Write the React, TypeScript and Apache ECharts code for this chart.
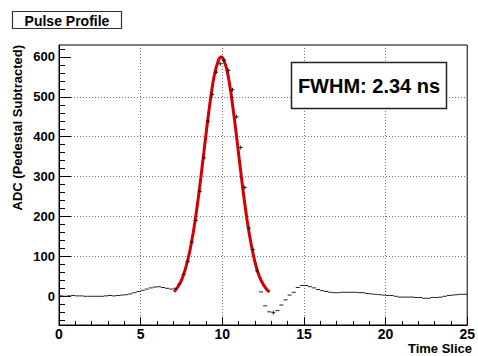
import React, { useEffect, useRef } from 'react';
import * as echarts from 'echarts';

// ---- data ----
const binStart = 0;
const binWidth = 0.25;
// ADC per bin (100 bins of 0.25 time slice)
const adcValues = [
  1, 0, 1, 2, 1, 1, 0, 0, 0, 0,
  0, 1, 2, 1, 2, 3, 4, 6, 9, 12,
  15, 18, 21, 23, 24, 22, 20, 18, 20, 31,
  55, 87, 136, 190, 263, 347, 439, 506, 562, 583,
  592, 566, 518, 450, 373, 273, 171, 117, 64, 11,
  -24, -39, -41, -36, -22, -9, 3, 10, 22, 27,
  27, 24, 21, 17, 14, 12, 10, 9, 9, 10,
  10, 10, 10, 9, 9, 7, 6, 5, 4, 3,
  2, 2, 0, -2, -2, -2, -2, -3, -3, -5,
  -5, -3, -3, -2, 0, 2, 3, 4, 5, 5,
];
// half-height of the vertical error bar (only visible on the pulse)
const binError = 5;
const errorThreshold = 40;

const fitX = [7.05, 7.25, 7.5, 7.75, 8.0, 8.25, 8.5, 8.75, 9.0, 9.25, 9.5, 9.75, 9.93, 10.0, 10.25, 10.5, 10.75, 11.0, 11.25, 11.5, 11.75, 12.0, 12.25, 12.5, 12.75, 12.9];
const fitY = [11, 22, 40, 70, 111, 167, 237, 319, 405, 486, 552, 590, 600, 599, 573, 518, 442, 357, 272, 196, 134, 86, 52, 30, 16, 11];

const xRange = [0, 25];
const xInterval = 5;
const yRange = [-72, 630];
const yMajorTicks = [0, 100, 200, 300, 400, 500, 600];
const yMinorTicks = [-60, -40, -20, 20, 40, 60, 80, 120, 140, 160, 180, 220, 240, 260, 280, 320, 340, 360, 380, 420, 440, 460, 480, 520, 540, 560, 580, 620];

const titleText = 'Pulse Profile';
const fwhmText = 'FWHM: 2.34 ns';
const xAxisName = 'Time Slice';
const yAxisName = 'ADC (Pedestal Subtracted)';

const FONT = '"Liberation Sans", Arial, Helvetica, sans-serif';

export default function App() {
  const ref = useRef<HTMLDivElement>(null);

  useEffect(() => {
    if (!ref.current) return;
    const chart = echarts.init(ref.current, null, { renderer: 'svg' });

    const binData = adcValues.map((v, i) => [binStart + binWidth * (i + 0.5), v]);
    const fitData = fitX.map((x, i) => [x, fitY[i]]);

    const option: any = {
      animation: false,
      backgroundColor: '#fff',
      grid: {
        left: 59,
        right: 6,
        top: 45,
        bottom: 31,
        show: true,
        borderColor: '#000',
        borderWidth: 1,
        backgroundColor: '#fff',
      },
      xAxis: {
        type: 'value',
        min: xRange[0],
        max: xRange[1],
        interval: xInterval,
        axisLine: { show: true, onZero: false, lineStyle: { color: '#000', width: 1 } },
        axisTick: { show: true, inside: true, length: 8, lineStyle: { color: '#000' } },
        minorTick: { show: true, splitNumber: 5, length: 4, lineStyle: { color: '#000' } },
        splitLine: { show: true, showMinLine: false, showMaxLine: false, lineStyle: { color: '#777', type: [1, 2], width: 1 } },
        axisLabel: { fontSize: 14, fontWeight: 'bold', color: '#000', margin: 2, fontFamily: FONT },
      },
      yAxis: [
        {
          type: 'value',
          min: yRange[0],
          max: yRange[1],
          minInterval: 100,
          maxInterval: 100,
          axisLine: { show: true, onZero: false, lineStyle: { color: '#000', width: 1 } },
          axisTick: { show: true, inside: true, length: 12, customValues: yMajorTicks, lineStyle: { color: '#000' } },
          splitLine: { show: true, showMinLine: false, showMaxLine: false, lineStyle: { color: '#777', type: [1, 2], width: 1 } },
          axisLabel: { fontSize: 13, fontWeight: 'bold', color: '#000', margin: 4, fontFamily: FONT, customValues: yMajorTicks },
        },
        {
          type: 'value',
          position: 'left',
          min: yRange[0],
          max: yRange[1],
          axisLine: { show: false },
          axisTick: { show: true, inside: true, length: 6, customValues: yMinorTicks, lineStyle: { color: '#000' } },
          splitLine: { show: false },
          axisLabel: { show: false },
        },
      ],
      series: [
        {
          type: 'line',
          data: fitData,
          showSymbol: false,
          smooth: 0.3,
          lineStyle: { color: '#d40000', width: 3 },
          z: 2,
          silent: true,
        },
        {
          type: 'custom',
          data: binData,
          clip: true,
          z: 3,
          silent: true,
          renderItem: (params: any, api: any) => {
            const x = api.value(0);
            const y = api.value(1);
            const p1 = api.coord([x - binWidth / 2, y]);
            const p2 = api.coord([x + binWidth / 2, y]);
            const children: any[] = [
              { type: 'line', shape: { x1: p1[0], y1: p1[1], x2: p2[0], y2: p2[1] }, style: { stroke: '#222', lineWidth: 1 } },
            ];
            if (Math.abs(y) >= errorThreshold) {
              const t = api.coord([x, y + binError]);
              const b = api.coord([x, y - binError]);
              children.push({ type: 'line', shape: { x1: t[0], y1: t[1], x2: b[0], y2: b[1] }, style: { stroke: '#222', lineWidth: 1 } });
            }
            return { type: 'group', children };
          },
        },
      ],
      graphic: [
        { type: 'rect', shape: { x: 12.5, y: 11.5, width: 109, height: 17 }, style: { fill: '#fff', stroke: '#333', lineWidth: 1.2 }, z: 10 },
        { type: 'text', x: 67, y: 20.5, style: { text: titleText, font: `bold 14px ${FONT}`, align: 'center', verticalAlign: 'middle', fill: '#000' }, z: 11 },
        { type: 'rect', shape: { x: 291.5, y: 62.5, width: 155, height: 46 }, style: { fill: '#fff', stroke: '#222', lineWidth: 1.5 }, z: 10 },
        { type: 'text', x: 369, y: 86, style: { text: fwhmText, font: `bold 20px ${FONT}`, align: 'center', verticalAlign: 'middle', fill: '#000' }, z: 11 },
        { type: 'text', x: 472, y: 348, style: { text: xAxisName, font: `bold 13px ${FONT}`, align: 'right', verticalAlign: 'middle', fill: '#000' }, z: 11 },
        { type: 'text', x: 17, y: 45, rotation: Math.PI / 2, style: { text: yAxisName, font: `bold 13px ${FONT}`, align: 'right', verticalAlign: 'middle', fill: '#000' }, z: 11 },
      ],
    };

    chart.setOption(option);
    return () => chart.dispose();
  }, []);

  return (
    <div
      ref={ref}
      style={{ position: 'fixed', left: 0, top: 0, width: 478, height: 356, background: '#fff' }}
    />
  );
}
